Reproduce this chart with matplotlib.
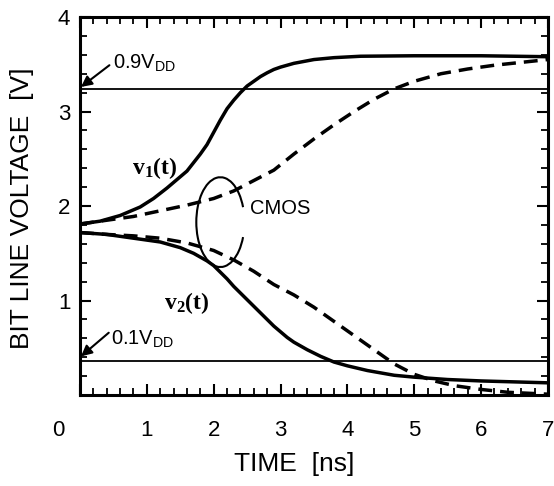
import matplotlib
matplotlib.use("Agg")
import matplotlib.pyplot as plt
from matplotlib.patches import Arc
from matplotlib.ticker import MultipleLocator
from matplotlib.transforms import ScaledTranslation

plt.rcParams['font.family'] = ['Liberation Sans', 'DejaVu Sans']
plt.rcParams['mathtext.fontset'] = 'custom'
plt.rcParams['mathtext.rm'] = 'Liberation Sans'
plt.rcParams['mathtext.bf'] = 'Liberation Serif:bold'

# ==========================================================
# Data (time in ns, voltage in V)

t_v1 = [0.0, 0.3, 0.6, 0.9, 1.1, 1.3, 1.4, 1.5, 1.6, 1.7, 1.8, 1.9, 2.0,
        2.1, 2.2, 2.3, 2.4, 2.5, 2.6, 2.7, 2.8, 2.9, 3.0, 3.2, 3.5, 3.8,
        4.2, 5.0, 6.0, 7.0]
v1_solid = [1.81, 1.84, 1.90, 1.99, 2.08, 2.19, 2.25, 2.31, 2.37, 2.46,
            2.55, 2.65, 2.78, 2.91, 3.03, 3.12, 3.20, 3.27, 3.32, 3.37,
            3.41, 3.445, 3.47, 3.51, 3.55, 3.57, 3.585, 3.59, 3.59, 3.58]

t_v1d = [0.0, 0.4, 0.8, 1.2, 1.6, 2.0, 2.3, 2.6, 2.9, 3.2, 3.5, 3.8, 4.1,
         4.4, 4.7, 5.0, 5.4, 5.8, 6.2, 6.6, 7.0]
v1_dashed = [1.81, 1.85, 1.89, 1.95, 2.01, 2.08, 2.16, 2.27, 2.38, 2.55,
             2.71, 2.86, 3.00, 3.13, 3.24, 3.32, 3.40, 3.45, 3.49, 3.52, 3.55]

t_v2 = [0.0, 0.4, 0.8, 1.2, 1.5, 1.6, 1.7, 1.8, 1.9, 2.0, 2.1, 2.2, 2.3,
        2.4, 2.5, 2.6, 2.7, 2.8, 2.9, 3.0, 3.1, 3.2, 3.3, 3.4, 3.6, 3.8,
        4.0, 4.3, 4.7, 5.0, 5.5, 6.0, 6.5, 7.0]
v2_solid = [1.72, 1.70, 1.66, 1.62, 1.56, 1.53, 1.50, 1.46, 1.42, 1.37,
            1.30, 1.23, 1.15, 1.08, 1.01, 0.94, 0.87, 0.80, 0.73, 0.67,
            0.61, 0.56, 0.52, 0.48, 0.41, 0.35, 0.31, 0.26, 0.21, 0.19,
            0.165, 0.15, 0.14, 0.13]

t_v2d = [0.0, 0.4, 0.8, 1.2, 1.6, 2.0, 2.3, 2.6, 2.9, 3.2, 3.5, 3.8, 4.1,
         4.4, 4.7, 5.0, 5.3, 5.6, 6.0, 6.4, 7.0]
v2_dashed = [1.72, 1.70, 1.685, 1.66, 1.61, 1.53, 1.43, 1.31, 1.17, 1.06,
             0.93, 0.78, 0.63, 0.48, 0.33, 0.22, 0.15, 0.10, 0.06, 0.03, 0.01]

VDD = 3.6
x_ticks = [0, 1, 2, 3, 4, 5, 6, 7]
y_ticks = [1, 2, 3, 4]

# ==========================================================
# Figure

fig = plt.figure(figsize=(5.54, 4.86), dpi=100)
ax = fig.add_axes([0.1444, 0.187, 0.8446, 0.778])

ax.plot(t_v1, v1_solid, color="k", lw=2.5, solid_capstyle="butt")
ax.plot(t_v2, v2_solid, color="k", lw=2.5, solid_capstyle="butt")
ax.plot(t_v1d, v1_dashed, color="k", lw=2.5, dashes=(4, 2.3))
ax.plot(t_v2d, v2_dashed, color="k", lw=2.5, dashes=(4, 2.3))

ax.axhline(0.9 * VDD, color="k", lw=1.3)
ax.axhline(0.1 * VDD, color="k", lw=1.3)

# CMOS loop
ax.add_patch(Arc((2.10, 1.83), width=0.72, height=0.95, theta1=25,
                 theta2=335, color="k", lw=1.5))
ax.text(2.54, 1.97, "CMOS", fontsize=14.5, ha="left", va="center")

ax.text(1.12, 2.40, r"$\mathbf{v_1(t)}$", fontsize=17, ha="center",
        va="center")
ax.text(1.59, 0.97, r"$\mathbf{v_2(t)}$", fontsize=17, ha="center",
        va="center")

# VDD markers with arrows to the left spine
arrow = dict(arrowstyle="-|>", color="k", lw=1.5, mutation_scale=16,
             shrinkA=0, shrinkB=0)
ax.text(0.50, 3.51, r"0.9V$_{\rm DD}$", fontsize=14.5, ha="left",
        va="center")
ax.annotate("", xy=(0.015, 0.9 * VDD + 0.02), xytext=(0.44, 3.49),
            arrowprops=arrow)
ax.text(0.47, 0.59, r"0.1V$_{\rm DD}$", fontsize=14.5, ha="left",
        va="center")
ax.annotate("", xy=(0.015, 0.1 * VDD + 0.05), xytext=(0.43, 0.66),
            arrowprops=arrow)

# ----------------------------
# Axes styling

ax.set_xlim(0, 7)
ax.set_ylim(0, 4)
ax.set_xticks(x_ticks)
ax.set_yticks(y_ticks)
ax.xaxis.set_minor_locator(MultipleLocator(0.2))
ax.yaxis.set_minor_locator(MultipleLocator(0.2))

ax.tick_params(which="both", direction="in", top=True, right=True,
               colors="k")
ax.tick_params(which="major", length=8, width=1.5)
ax.tick_params(which="minor", length=5, width=1.3)
ax.tick_params(axis="x", which="major", labelsize=16, pad=18)
ax.tick_params(axis="y", which="major", labelsize=16, pad=7)

for s in ax.spines.values():
    s.set_linewidth(2.2)

# origin label sits left of the corner
zero = ax.get_xticklabels()[0]
zero.set_transform(zero.get_transform()
                   + ScaledTranslation(-0.22, 0, fig.dpi_scale_trans))

ax.set_xlabel("TIME  [ns]", fontsize=19)
ax.set_ylabel("BIT LINE VOLTAGE  [V]", fontsize=19)
ax.xaxis.label.set_va("center")
ax.yaxis.label.set_va("center")
ax.xaxis.set_label_coords(0.457, -0.183)
ax.yaxis.set_label_coords(-0.124, 0.495)

fig.savefig("out.png", dpi=100)
